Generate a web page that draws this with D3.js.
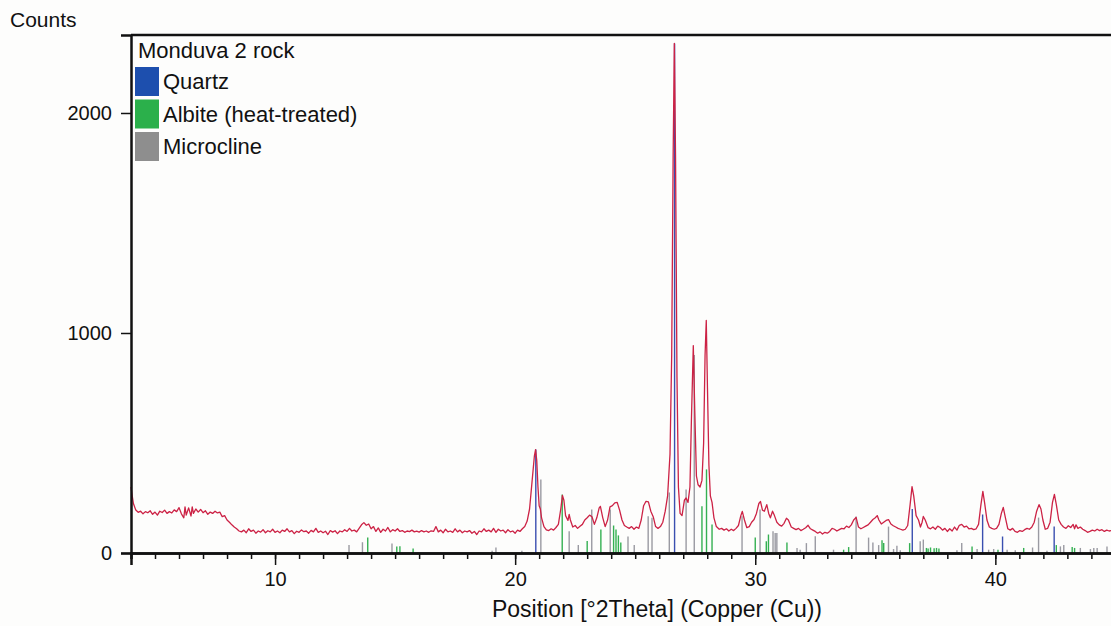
<!DOCTYPE html>
<meta charset="utf-8">
<style>
body {
  margin: 0;
  background-color: #fdfdfc;
}
svg {
  display: block;
  font-family: "Liberation Sans", Arial, sans-serif;
}
.axis text {
  font-size: 20px;
  fill: #111;
}
.axis path,
.axis line {
  stroke: #111;
}
.axis path {
  stroke-width: 2.5px;
}
.axis line {
  stroke-width: 1.5px;
}
.pattern {
  fill: none;
  stroke: #cc2245;
  stroke-width: 1.3px;
  stroke-linejoin: round;
}
.stick {
  stroke-width: 1.4px;
}
.legend text {
  font-size: 22px;
  fill: #111;
}
</style>
<body>
<svg width="1111" height="626"></svg>
</body>

<script src="https://d3js.org/d3.v7.min.js"></script>

<script>

// measured pattern, [°2Theta, counts]
var pattern = [
  [4.00,300],[4.05,260],[4.10,225],[4.20,195],[4.30,185],[4.40,190],[4.50,178],[4.60,188],[4.70,183],[4.80,192],
  [4.90,176],[5.00,186],[5.10,172],[5.20,190],[5.30,184],[5.40,195],[5.50,180],[5.60,188],[5.70,182],[5.80,196],
  [5.90,188],[6.00,206],[6.10,178],[6.20,160],[6.25,210],[6.30,172],[6.40,205],[6.50,168],[6.55,210],[6.60,180],
  [6.70,200],[6.80,186],[6.90,198],[7.00,183],[7.10,192],[7.20,176],[7.30,186],[7.40,180],[7.50,190],[7.60,182],
  [7.70,186],[7.80,165],[7.90,170],[8.00,150],[8.10,140],[8.20,128],[8.30,118],[8.40,110],[8.50,100],[8.60,96],
  [8.70,104],[8.80,92],[8.90,110],[9.00,98],[9.10,104],[9.20,90],[9.30,100],[9.40,95],[9.50,106],[9.60,92],
  [9.70,101],[9.80,96],[9.90,108],[10.00,94],[10.10,100],[10.20,92],[10.30,104],[10.40,98],[10.50,110],[10.60,96],
  [10.70,102],[10.80,88],[10.90,99],[11.00,94],[11.10,105],[11.20,97],[11.30,100],[11.40,90],[11.50,103],[11.60,96],
  [11.70,112],[11.80,94],[11.90,100],[12.00,92],[12.10,99],[12.20,84],[12.30,102],[12.40,95],[12.50,101],[12.60,88],
  [12.70,100],[12.80,96],[12.90,106],[13.00,98],[13.10,112],[13.20,100],[13.30,104],[13.40,96],[13.50,112],[13.60,128],
  [13.70,138],[13.80,126],[13.90,132],[14.00,110],[14.10,120],[14.20,98],[14.30,114],[14.40,94],[14.50,108],[14.60,100],
  [14.70,116],[14.80,96],[14.90,106],[15.00,100],[15.10,110],[15.20,98],[15.30,102],[15.40,94],[15.50,100],[15.60,97],
  [15.70,104],[15.80,96],[15.90,99],[16.00,95],[16.10,102],[16.20,96],[16.30,100],[16.40,94],[16.50,101],[16.60,98],
  [16.70,120],[16.80,96],[16.90,104],[17.00,92],[17.10,108],[17.20,96],[17.30,100],[17.40,94],[17.50,110],[17.60,96],
  [17.70,104],[17.80,92],[17.90,100],[18.00,96],[18.10,102],[18.20,90],[18.30,98],[18.40,84],[18.50,100],[18.60,96],
  [18.70,110],[18.80,98],[18.90,104],[19.00,96],[19.10,112],[19.20,94],[19.30,108],[19.40,100],[19.50,104],[19.60,92],
  [19.70,106],[19.80,96],[19.90,100],[20.00,90],[20.10,104],[20.20,98],[20.30,110],[20.40,120],[20.50,145],[20.60,200],
  [20.70,320],[20.80,440],[20.85,470],[20.90,420],[20.95,300],[21.00,215],[21.05,200],[21.10,160],[21.20,120],[21.30,105],
  [21.40,102],[21.50,110],[21.60,104],[21.70,116],[21.80,130],[21.90,200],[21.97,262],[22.03,240],[22.10,170],[22.20,148],
  [22.25,175],[22.30,150],[22.40,118],[22.50,125],[22.60,112],[22.70,122],[22.80,130],[22.90,150],[23.00,160],[23.10,172],
  [23.20,165],[23.30,130],[23.40,160],[23.50,205],[23.55,212],[23.65,160],[23.75,120],[23.85,150],[23.95,210],[24.05,215],
  [24.15,228],[24.25,230],[24.35,195],[24.45,150],[24.55,125],[24.65,118],[24.75,112],[24.85,120],[24.95,108],[25.05,118],
  [25.15,112],[25.25,150],[25.35,215],[25.45,235],[25.55,232],[25.65,190],[25.75,165],[25.85,120],[25.95,112],[26.05,120],
  [26.15,140],[26.25,190],[26.35,260],[26.45,450],[26.52,900],[26.58,1800],[26.63,2316],[26.68,1800],[26.74,800],[26.80,300],
  [26.87,180],[26.95,170],[27.05,240],[27.12,250],[27.20,230],[27.28,300],[27.34,600],[27.42,943],[27.48,650],[27.55,350],
  [27.62,310],[27.70,300],[27.78,330],[27.85,500],[27.91,900],[27.96,1057],[28.01,750],[28.07,400],[28.13,260],[28.20,230],
  [28.28,160],[28.38,120],[28.50,108],[28.60,112],[28.70,104],[28.80,110],[28.90,100],[29.00,108],[29.10,102],[29.20,112],
  [29.30,125],[29.40,170],[29.46,189],[29.55,150],[29.65,115],[29.75,120],[29.85,140],[29.95,152],[30.05,180],[30.15,225],
  [30.22,234],[30.30,195],[30.38,190],[30.48,220],[30.56,180],[30.63,160],[30.72,190],[30.80,170],[30.90,140],[31.00,128],
  [31.10,122],[31.20,135],[31.30,158],[31.38,150],[31.50,118],[31.60,112],[31.70,106],[31.80,112],[31.90,102],[32.00,108],
  [32.10,115],[32.20,126],[32.30,110],[32.40,104],[32.50,98],[32.60,90],[32.70,96],[32.80,86],[32.90,94],[33.00,90],
  [33.10,98],[33.20,112],[33.30,108],[33.40,100],[33.50,106],[33.60,112],[33.70,110],[33.80,122],[33.90,116],[34.00,128],
  [34.10,150],[34.20,162],[34.30,118],[34.40,110],[34.50,116],[34.60,122],[34.70,128],[34.80,140],[34.90,152],[35.00,160],
  [35.08,170],[35.15,150],[35.25,132],[35.35,140],[35.45,148],[35.55,152],[35.65,132],[35.75,124],[35.85,118],[35.95,112],
  [36.05,108],[36.15,104],[36.25,108],[36.35,125],[36.45,220],[36.53,302],[36.60,260],[36.70,170],[36.80,150],[36.88,118],
  [36.95,140],[37.00,166],[37.08,150],[37.20,115],[37.30,110],[37.40,118],[37.50,108],[37.60,122],[37.70,116],[37.80,104],
  [37.90,112],[38.00,98],[38.10,110],[38.20,100],[38.30,118],[38.40,104],[38.50,126],[38.60,130],[38.70,118],[38.80,122],
  [38.90,110],[39.00,112],[39.10,106],[39.20,110],[39.30,130],[39.40,220],[39.48,280],[39.55,230],[39.65,150],[39.75,118],
  [39.85,112],[39.95,108],[40.05,112],[40.15,130],[40.25,180],[40.33,207],[40.42,160],[40.52,110],[40.62,104],[40.72,112],
  [40.82,98],[40.92,94],[41.02,102],[41.12,98],[41.22,106],[41.32,112],[41.42,108],[41.52,118],[41.62,140],[41.72,190],
  [41.82,220],[41.90,200],[41.98,150],[42.08,108],[42.18,112],[42.28,140],[42.38,230],[42.46,266],[42.54,220],[42.64,150],
  [42.74,130],[42.84,118],[42.94,112],[43.04,124],[43.14,116],[43.24,130],[43.30,110],[43.36,128],[43.44,112],[43.54,118],
  [43.64,108],[43.74,102],[43.84,94],[43.94,98],[44.04,104],[44.14,100],[44.24,108],[44.34,102],[44.44,106],[44.54,98],
  [44.64,104],[44.74,100],[44.84,102],[45.00,98]
];

// reference peak lists, [°2Theta, height in counts]
var quartzSticks = [
  [20.86,470],[26.64,2316],[36.54,200],[39.47,175],[40.30,75],[42.45,120]
];

var albiteSticks = [
  [13.86,70],[15.07,30],[15.20,31],[15.75,20],[21.96,266],[23.00,54],[23.57,107],[24.10,125],[24.20,107],[24.30,80],
  [24.40,48],[27.78,213],[27.97,380],[28.20,130],[30.00,70],[30.46,53],[30.55,84],[31.32,48],[33.68,15],[33.89,27],
  [35.28,58],[35.35,45],[36.43,45],[37.13,23],[37.20,20],[37.30,25],[37.45,22],[37.55,23],[37.65,20],[39.03,30],
  [40.11,15],[41.18,23],[42.54,36],[43.20,27],[43.30,23]
];

var microclineSticks = [
  [13.08,36],[13.64,49],[14.87,43],[19.04,10],[19.20,25],[20.28,10],[21.07,334],[22.25,99],[22.63,36],[23.19,198],
  [23.96,198],[24.70,75],[24.96,36],[25.54,167],[25.70,160],[26.42,275],[27.12,289],[27.46,900],[29.45,167],[30.20,198],
  [30.74,99],[30.83,91],[30.90,91],[31.74,23],[31.87,15],[32.13,45],[32.50,76],[33.26,15],[34.20,166],[34.72,70],
  [34.90,48],[35.14,36],[35.55,120],[35.76,18],[35.90,33],[36.04,12],[36.87,53],[37.00,61],[38.40,12],[38.60,45],
  [39.24,18],[39.72,15],[39.93,18],[40.49,15],[40.83,12],[41.55,25],[41.80,161],[42.15,10],[42.71,30],[42.85,36],
  [43.54,23],[43.96,18],[44.10,23],[44.24,23],[44.65,30]
];

var xTicks = [10, 20, 30, 40];
var yTicks = [0, 1000, 2000];

var sampleName = "Monduva 2 rock";
var phaseNames = ["Quartz", "Albite (heat-treated)", "Microcline"];
var phaseColors = ["#1d4fae", "#2bb04b", "#8e8e8e"];
var stickColors = ["#3a4fb0", "#34b052", "#9a9aa2"];

var margin = {top: 35, left: 131},
    width = 1000,
    height = 518;

var x = d3.scaleLinear().domain([4, 45.65]).range([0, width]);
var y = d3.scaleLinear().domain([0, 2354.5]).range([height, 0]);

var svg = d3.select("svg");

var g = svg.append("g")
  .attr("transform", "translate(" + margin.left + "," + margin.top + ")");

// sticks under the measured line
var sets = [microclineSticks, albiteSticks, quartzSticks];
var setColors = [stickColors[2], stickColors[1], stickColors[0]];

sets.forEach(function(s, i) {
  g.selectAll(".stick-" + i).data(s)
    .enter()
    .append("line")
    .attr("class", "stick stick-" + i)
    .attr("x1", function(d) { return x(d[0]); })
    .attr("x2", function(d) { return x(d[0]); })
    .attr("y1", y(0))
    .attr("y2", function(d) { return y(d[1]); })
    .style("stroke", setColors[i]);
});

var line = d3.line()
  .x(function(d) { return x(d[0]); })
  .y(function(d) { return y(d[1]); });

g.append("path")
  .datum(pattern)
  .attr("class", "pattern")
  .attr("d", line);

// frame top
g.append("line")
  .attr("x1", 0)
  .attr("x2", width)
  .attr("y1", 0)
  .attr("y2", 0)
  .style("stroke", "#111")
  .style("stroke-width", "2.5px");

// axes
var xMinor = d3.axisBottom(x)
  .tickValues(d3.range(5, 46))
  .tickSize(6)
  .tickFormat("");

g.append("g")
  .attr("class", "axis axis--xminor")
  .attr("transform", "translate(0," + height + ")")
  .call(xMinor);

var xAxis = d3.axisBottom(x)
  .tickValues(xTicks)
  .tickSize(12)
  .tickPadding(7)
  .tickFormat(d3.format("d"));

g.append("g")
  .attr("class", "axis axis--x")
  .attr("transform", "translate(0," + height + ")")
  .call(xAxis);

var yAxis = d3.axisLeft(y)
  .tickValues(yTicks)
  .tickSize(10)
  .tickPadding(9)
  .tickFormat(d3.format("d"));

g.append("g")
  .attr("class", "axis axis--y")
  .call(yAxis);

svg.append("text")
  .attr("x", 10)
  .attr("y", 27)
  .style("font-size", "21px")
  .attr("fill", "#111")
  .text("Counts");

svg.append("text")
  .attr("x", 657)
  .attr("y", 617)
  .style("font-size", "23px")
  .style("text-anchor", "middle")
  .attr("fill", "#111")
  .text("Position [°2Theta] (Copper (Cu))");

// legend
var legend = svg.append("g")
  .attr("class", "legend")
  .attr("transform", "translate(135,0)");

legend.append("text")
  .attr("x", 3)
  .attr("y", 58)
  .text(sampleName);

var items = legend.selectAll(".item").data(phaseNames)
  .enter()
  .append("g")
  .attr("class", "item")
  .attr("transform", function(d, i) { return "translate(0," + (81 + i * 32.5) + ")"; });

items.append("rect")
  .attr("x", 0)
  .attr("y", -14)
  .attr("width", 24)
  .attr("height", 29)
  .style("fill", function(d, i) { return phaseColors[i]; });

items.append("text")
  .attr("x", 28)
  .attr("y", 8)
  .text(function(d) { return d; });

</script>
